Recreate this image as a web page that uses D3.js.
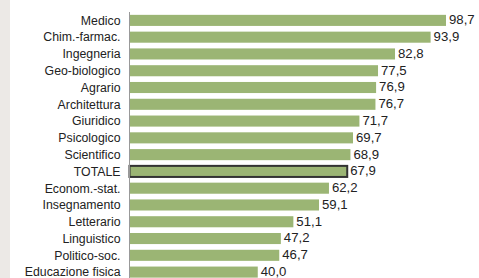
<!DOCTYPE html>
<html>
<head>
<meta charset="utf-8">
<script src="https://cdn.jsdelivr.net/npm/d3@7"></script>
<style>
  body { margin: 0; background: #fff; }
  svg { display: block; }
</style>
</head>
<body>
<svg width="479" height="278"></svg>
<script>
const categories = ["Medico", "Chim.-farmac.", "Ingegneria", "Geo-biologico", "Agrario", "Architettura",
  "Giuridico", "Psicologico", "Scientifico", "TOTALE", "Econom.-stat.", "Insegnamento",
  "Letterario", "Linguistico", "Politico-soc.", "Educazione fisica"]
const values = [98.7, 93.9, 82.8, 77.5, 76.9, 76.7, 71.7, 69.7, 68.9, 67.9, 62.2, 59.1, 51.1, 47.2, 46.7, 40.0]

const width = 479, height = 278
const margin = {top: 12, left: 129.5}
const font = "'Liberation Sans Narrow', 'Arial Narrow', sans-serif"
const svg = d3.select("svg")

// grey strip on the left edge
svg.append("rect")
  .attr("x", 0).attr("y", 0)
  .attr("width", 10).attr("height", height)
  .attr("fill", "#ece9e6")

const x = d3.scaleLinear()
  .domain([0, 98.7])
  .range([margin.left, 446])

const y = d3.scaleBand()
  .domain(categories)
  .range([margin.top, margin.top + 16.78 * 16])
  .paddingInner(0.34)
  .paddingOuter(0.17)

const data = categories.map((c, i) => ({cat: c, val: values[i]}))

svg.selectAll("rect.bar")
  .data(data)
  .enter().append("rect")
  .attr("class", "bar")
  .attr("x", x(0))
  .attr("y", d => y(d.cat))
  .attr("width", d => x(d.val) - x(0))
  .attr("height", y.bandwidth())
  .attr("fill", "#9bb574")
  .attr("stroke", d => d.cat == "TOTALE" ? "#333" : "none")
  .attr("stroke-width", 2)

// value labels
svg.selectAll("text.val")
  .data(data)
  .enter().append("text")
  .attr("class", "val")
  .attr("x", d => x(d.val) + 3)
  .attr("y", d => y(d.cat) + y.bandwidth() / 2)
  .attr("dy", "0.3em")
  .attr("font-family", font)
  .attr("font-size", "13.2px")
  .attr("fill", "#222")
  .text(d => d3.format(".1f")(d.val).replace(".", ","))

// category axis
const yAxis = d3.axisLeft(y).tickSize(0).tickPadding(9)
const gy = svg.append("g")
  .attr("transform", `translate(${x(0)},0)`)
  .call(yAxis)
gy.select(".domain")
  .attr("stroke", "#999")
  .attr("d", `M0,${margin.top}V${height}`)
gy.selectAll("text")
  .attr("font-family", font)
  .attr("font-size", "12.3px")
  .attr("dy", "0.35em")
  .attr("fill", "#222")
</script>
</body>
</html>
